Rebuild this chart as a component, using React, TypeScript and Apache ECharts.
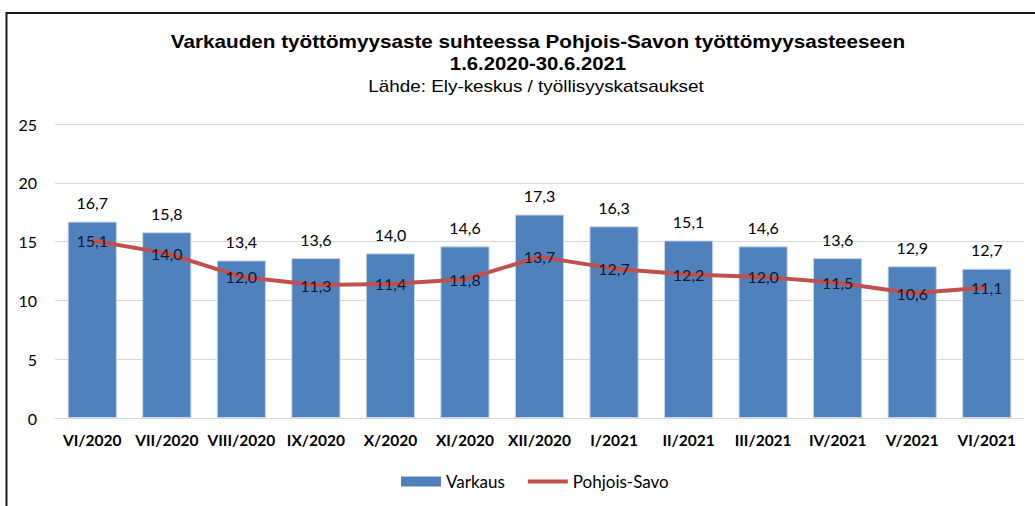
import React, { useEffect, useRef } from "react";
import * as echarts from "echarts";

const categories = ["VI/2020", "VII/2020", "VIII/2020", "IX/2020", "X/2020", "XI/2020", "XII/2020", "I/2021", "II/2021", "III/2021", "IV/2021", "V/2021", "VI/2021"];
const varkaus = [16.7, 15.8, 13.4, 13.6, 14.0, 14.6, 17.3, 16.3, 15.1, 14.6, 13.6, 12.9, 12.7];
const pohjoisSavo = [15.1, 14.0, 12.0, 11.3, 11.4, 11.8, 13.7, 12.7, 12.2, 12.0, 11.5, 10.6, 11.1];
const yTicks = [0, 5, 10, 15, 20, 25];

const titleLine1 = "Varkauden työttömyysaste suhteessa Pohjois-Savon työttömyysasteeseen";
const titleLine2 = "1.6.2020-30.6.2021";
const subtitle = "Lähde: Ely-keskus / työllisyyskatsaukset";

const fmt = (v: number) => v.toFixed(1).replace(".", ",");

export default function App() {
  const ref = useRef<HTMLDivElement>(null);
  useEffect(() => {
    if (!ref.current) return;
    const chart = echarts.init(ref.current, null, { renderer: "svg" });
    const labelFont = { fontFamily: "Lato", fontSize: 16, color: "#000" };
    chart.setOption({
      animation: false,
      backgroundColor: "#fff",
      graphic: [
        {
          type: "rect",
          shape: { x: 6.5, y: 13, width: 1100, height: 700 },
          style: { fill: "none", stroke: "#1a1a1a", lineWidth: 2 },
          silent: true,
        },
        {
          type: "text",
          x: 538,
          y: 42,
          scaleX: 1.15,
          style: { text: titleLine1, fontFamily: "Liberation Sans", fontWeight: "bold", fontSize: 18, fill: "#000", align: "center", verticalAlign: "middle" },
          silent: true,
        },
        {
          type: "text",
          x: 538,
          y: 64,
          scaleX: 1.13,
          style: { text: titleLine2, fontFamily: "Liberation Sans", fontWeight: "bold", fontSize: 18, fill: "#000", align: "center", verticalAlign: "middle" },
          silent: true,
        },
        {
          type: "text",
          x: 536,
          y: 87,
          scaleX: 1.18,
          style: { text: subtitle, fontFamily: "Liberation Sans", fontWeight: "normal", fontSize: 16, fill: "#000", align: "center", verticalAlign: "middle" },
          silent: true,
        },
      ],
      grid: { left: 55, right: 11, top: 124, bottom: 88, containLabel: false },
      legend: {
        bottom: 11,
        left: 396,
        itemGap: 23,
        itemWidth: 40,
        itemHeight: 10,
        textStyle: { fontFamily: "Lato", fontSize: 17, color: "#000" },
        data: [
          { name: "Varkaus", icon: "rect", itemStyle: { borderWidth: 0 } },
          { name: "Pohjois-Savo", icon: "path://M0,0H40V4H0Z" },
        ],
      },
      xAxis: {
        type: "category",
        data: categories,
        axisLine: { lineStyle: { color: "#d9d9d9", width: 1 } },
        axisTick: { show: false },
        axisLabel: { fontFamily: "Lato", fontWeight: "bold", fontSize: 15.5, color: "#000", margin: 14, interval: 0 },
      },
      yAxis: {
        type: "value",
        min: 0,
        max: yTicks[yTicks.length - 1],
        interval: 5,
        axisLine: { show: false },
        axisTick: { show: false },
        splitLine: { lineStyle: { color: "#d9d9d9", width: 1 } },
        axisLabel: { ...labelFont, margin: 18 },
      },
      series: [
        {
          name: "Varkaus",
          type: "bar",
          data: varkaus,
          barCategoryGap: "34%",
          itemStyle: { color: "#4F81BD", borderColor: "#c8d7ea", borderWidth: 1 },
          label: {
            show: true,
            position: "top",
            distance: 11,
            formatter: (p: any) => fmt(p.value),
            ...labelFont,
          },
        },
        {
          name: "Pohjois-Savo",
          type: "line",
          data: pohjoisSavo,
          symbol: "none",
          lineStyle: { color: "#C0504D", width: 4 },
          itemStyle: { color: "#C0504D" },
          z: 3,
        },
        {
          name: "Pohjois-Savo labels",
          type: "scatter",
          data: pohjoisSavo,
          symbolSize: 0,
          z: 4,
          label: {
            show: true,
            position: "inside",
            formatter: (p: any) => fmt(p.value),
            ...labelFont,
          },
        },
      ],
    });
    return () => chart.dispose();
  }, []);
  return (
    <div
      ref={ref}
      style={{ position: "absolute", left: 0, top: 0, width: 1035, height: 506 }}
    />
  );
}
